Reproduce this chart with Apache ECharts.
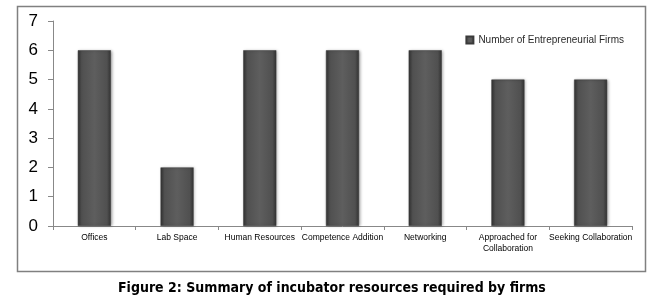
<!DOCTYPE html>
<html><head><meta charset="utf-8">
<script src="https://cdn.jsdelivr.net/npm/echarts@6/dist/echarts.min.js"></script>
<style>html,body{margin:0;padding:0;background:#fff}#c{width:654px;height:306px}</style>
</head><body><div id="c"></div>
<script>
var categories = ["Offices","Lab Space","Human Resources","Competence Addition","Networking","Approached for\nCollaboration","Seeking Collaboration"];
var firms = [6,2,6,6,6,5,5];
var yTicks = [0,1,2,3,4,5,6,7];
var seriesName = "Number of Entrepreneurial Firms";
var caption = "Figure 2: Summary of incubator resources required by firms";

var chart = echarts.init(document.getElementById('c'), null, {renderer:'canvas'});
var barColor = new echarts.graphic.LinearGradient(0,0,1,0,[
  {offset:0,color:'#333333'},{offset:0.12,color:'#505050'},{offset:0.5,color:'#5e5e5e'},{offset:0.88,color:'#505050'},{offset:1,color:'#333333'}
]);
chart.setOption({
  animation:false,
  graphic:[
    {type:'rect',shape:{x:17.5,y:6.5,width:628,height:265},style:{fill:'none',stroke:'#808080',lineWidth:1.5},z:-1},
    {type:'text',left:118,top:281,style:{text:caption,font:'bold 14px "DejaVu Sans Condensed", "Liberation Sans", sans-serif',fill:'#000'}}
  ],
  legend:{show:true,data:[seriesName],right:25,top:30,itemWidth:7,itemHeight:7,itemGap:2,icon:'rect',
    textStyle:{fontFamily:'"Liberation Sans", sans-serif',fontSize:10,color:'#2a2a2a'}},
  grid:{left:53,right:22,top:21,bottom:80},
  xAxis:{type:'category',data:categories,
    axisLine:{lineStyle:{color:'#888'}},
    axisTick:{show:true,length:4,lineStyle:{color:'#888'}},
    axisLabel:{interval:0,fontFamily:'"Liberation Sans", sans-serif',fontSize:8.5,color:'#000',margin:6,lineHeight:11}},
  yAxis:{type:'value',min:yTicks[0],max:yTicks[yTicks.length-1],interval:1,
    splitLine:{show:false},
    axisLine:{show:true,lineStyle:{color:'#888'}},
    axisTick:{show:true,length:5,lineStyle:{color:'#888'}},
    axisLabel:{fontFamily:'"Liberation Sans", sans-serif',fontSize:17,color:'#000',margin:15}},
  series:[{type:'bar',name:seriesName,data:firms,barWidth:'40%',
    itemStyle:{color:barColor,borderColor:'#3a3a3a',borderWidth:0.5,shadowColor:'rgba(0,0,0,0.35)',shadowBlur:3,shadowOffsetX:1,shadowOffsetY:0}}]
});
</script></body></html>
